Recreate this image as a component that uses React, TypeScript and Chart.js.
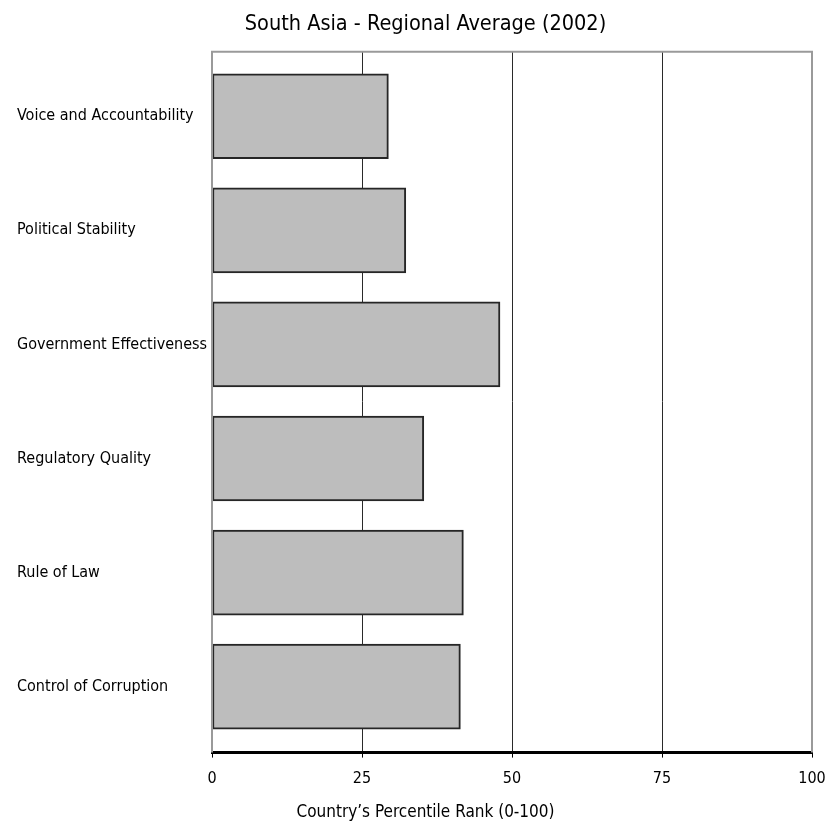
import React, { useEffect, useRef } from "react";
import { Chart, registerables } from "chart.js";

Chart.register(...registerables);

const categories = [
  "Voice and Accountability",
  "Political Stability",
  "Government Effectiveness",
  "Regulatory Quality",
  "Rule of Law",
  "Control of Corruption",
];
const values = [29.4, 32.3, 48.0, 35.3, 41.9, 41.4];
const xTicks = [0, 25, 50, 75, 100];
const titleText = "South Asia - Regional Average (2002)";
const xTitleText = "Country\u2019s Percentile Rank (0-100)";

const FONT = "'Liberation Sans Narrow', 'DejaVu Sans Condensed', sans-serif";
const LABEL_LEFT = 17;

const frameBox = {
  id: "frameBox",
  afterLayout(chart: any) {
    // category labels start at the left edge, while title boxes stay centred as in the reference
    const y = chart.scales.y;
    if (y) y.left = LABEL_LEFT;
  },
  afterDatasetsDraw(chart: any) {
    const { ctx, chartArea } = chart;
    ctx.save();
    ctx.strokeStyle = "#9a9a9a";
    ctx.lineWidth = 2;
    ctx.beginPath();
    ctx.moveTo(chartArea.left, chartArea.bottom);
    ctx.lineTo(chartArea.left, chartArea.top);
    ctx.lineTo(chartArea.right, chartArea.top);
    ctx.lineTo(chartArea.right, chartArea.bottom);
    ctx.stroke();
    ctx.restore();
  },
};

export default function App() {
  const ref = useRef<HTMLCanvasElement>(null);
  useEffect(() => {
    if (!ref.current) return;
    const chart = new Chart(ref.current, {
      type: "bar",
      data: {
        datasets: [
          {
            data: values.map((v, i) => ({ x: v, y: i })),
            backgroundColor: "#bdbdbd",
            borderColor: "#262626",
            borderWidth: 2,
            borderSkipped: false,
            barThickness: 85,
          },
        ],
      },
      plugins: [frameBox],
      options: {
        indexAxis: "y",
        animation: false,
        responsive: true,
        maintainAspectRatio: false,
        layout: { padding: { left: 39, right: 13, top: 2, bottom: 0 } },
        plugins: {
          legend: { display: false },
          tooltip: { enabled: false },
          title: {
            display: true,
            text: titleText,
            color: "#000",
            font: { family: FONT, size: 21.5, weight: "normal" },
            padding: { top: 10, bottom: 14 },
          },
          subtitle: {
            display: true,
            position: "bottom",
            text: xTitleText,
            color: "#000",
            font: { family: FONT, size: 17, weight: "normal" },
            padding: { top: 12, bottom: 6 },
          },
        },
        scales: {
          x: {
            type: "linear",
            min: 0,
            max: 100,
            afterBuildTicks: (scale: any) => {
              scale.ticks = xTicks.map((v) => ({ value: v }));
            },
            afterFit: (scale: any) => {
              scale.height = 38;
              scale.paddingRight = 0;
              scale.paddingLeft = 0;
            },
            ticks: {
              color: "#000",
              font: { family: FONT, size: 16 },
              padding: 12,
              maxRotation: 0,
            },
            grid: {
              color: (ctx: any) =>
                ctx.tick && (ctx.tick.value === 0 || ctx.tick.value === 100)
                  ? "rgba(0,0,0,0)"
                  : "#2a2a2a",
              lineWidth: 1,
              tickColor: "#000",
              tickLength: 5,
            },
            border: { color: "#000", width: 3 },
          },
          y: {
            type: "linear",
            reverse: true,
            offset: false,
            min: -0.565,
            max: 5.578,
            afterBuildTicks: (scale: any) => {
              scale.ticks = categories.map((_, i) => ({ value: i }));
            },
            afterFit: (scale: any) => {
              scale.width = 173;
            },
            ticks: {
              color: "#000",
              font: { family: FONT, size: 16 },
              crossAlign: "far",
              padding: 6,
              callback: (v: any) => categories[v as number] ?? "",
            },
            grid: { display: false, drawTicks: false },
            border: { display: false },
          },
        },
      },
    });
    return () => chart.destroy();
  }, []);
  return (
    <div
      style={{
        position: "absolute",
        left: 0,
        top: 0,
        width: "825px",
        height: "829px",
        background: "#fff",
      }}
    >
      <canvas ref={ref} />
    </div>
  );
}
